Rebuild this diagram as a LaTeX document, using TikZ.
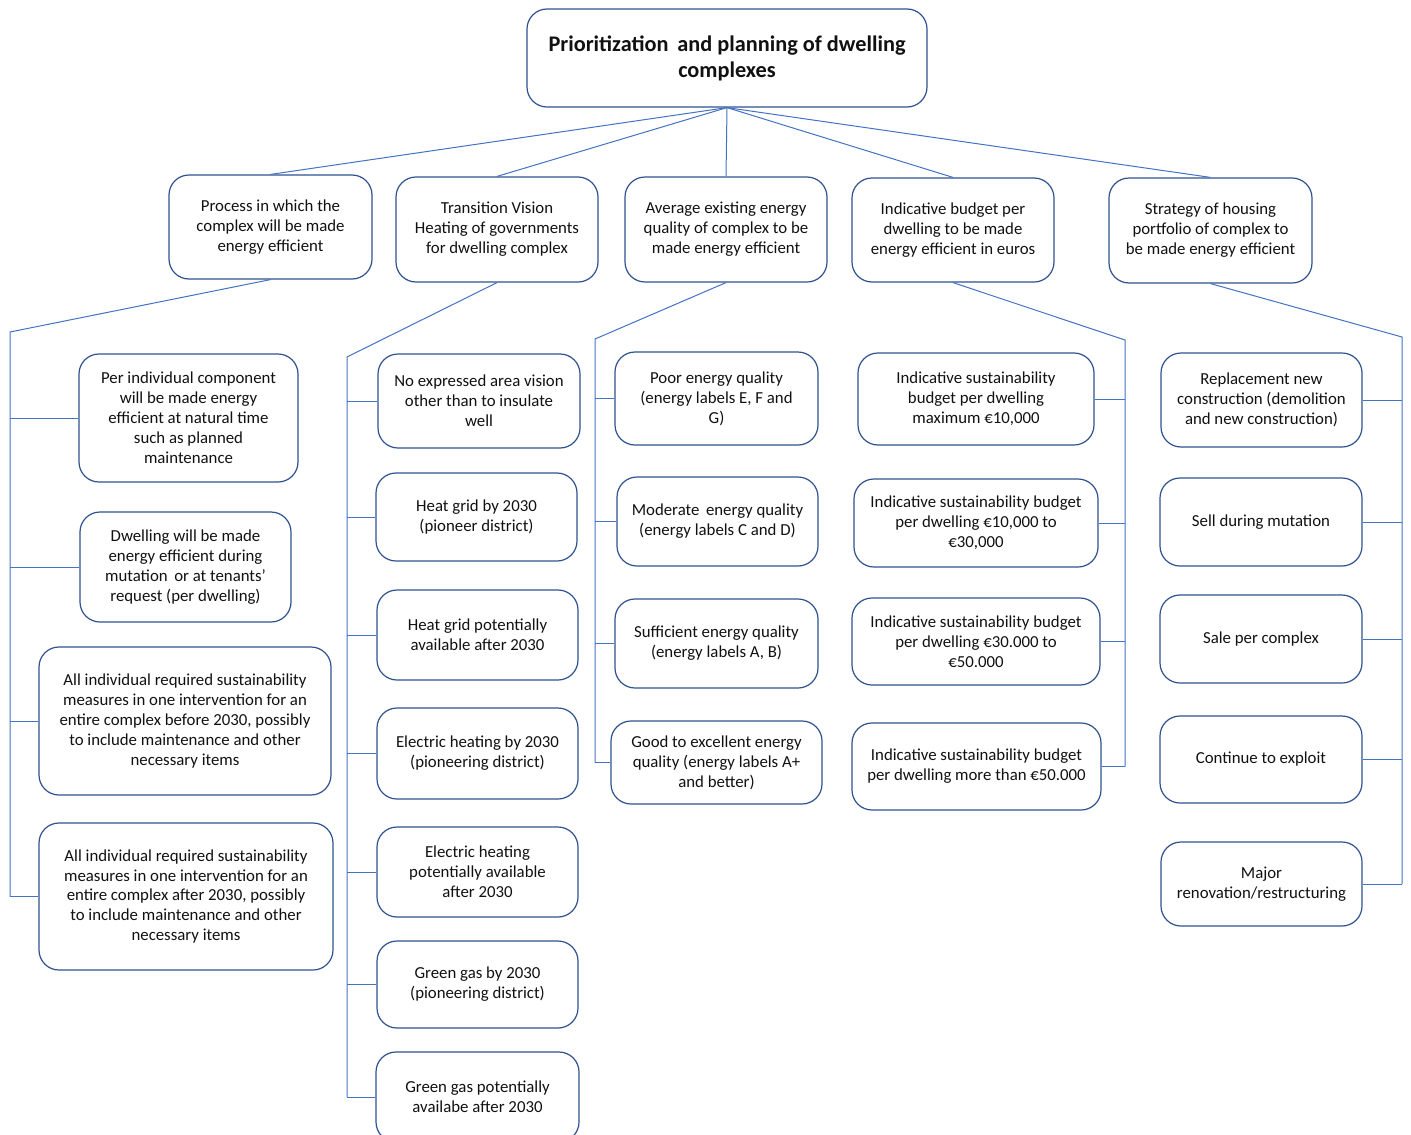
\documentclass[tikz,border=0pt]{standalone}
\usepackage{fontspec}
\setmainfont{Carlito}
\definecolor{boxblue}{HTML}{2F528F}
\definecolor{lineblue}{HTML}{4472C4}
\definecolor{txt}{HTML}{111111}
\tikzset{
  box/.style={draw=boxblue, line width=1.2pt, rounded corners=20pt, align=center, inner sep=0pt,
    text=txt, font=\fontsize{16.8}{19.9}\selectfont, fill=white},
  rootbox/.style={box, font=\bfseries\fontsize{22.3}{26}\selectfont},
  conn/.style={draw=lineblue, line width=1pt}
}
\begin{document}
\begin{tikzpicture}[x=1pt,y=-1pt]
\useasboundingbox[fill=white] (0,0) rectangle (1411,1135);
% root
\node[rootbox, minimum width=400pt, minimum height=98pt] (root) at (727,58) {Prioritization\, and planning of dwelling\\complexes};
% level 1
\node[box, minimum width=203pt, minimum height=104pt] (p1) at (270.5,227) {Process in which the\\complex will be made\\energy efficient};
\node[box, minimum width=202pt, minimum height=105pt] (p2) at (497,229.5) {Transition Vision\\Heating of governments\\for dwelling complex};
\node[box, minimum width=202pt, minimum height=105pt] (p3) at (726,229.5) {Average existing energy\\quality of complex to be\\made energy efficient};
\node[box, minimum width=202pt, minimum height=104pt] (p4) at (953,230) {Indicative budget per\\dwelling to be made\\energy efficient in euros};
\node[box, minimum width=203pt, minimum height=105pt] (p5) at (1210.5,230.5) {Strategy of housing\\portfolio of complex to\\be made energy efficient};
% column 1
\node[box, minimum width=219pt, minimum height=128pt] (c1a) at (188.5,418) {Per individual component\\will be made energy\\efficient at natural time\\such as planned\\maintenance};
\node[box, minimum width=211pt, minimum height=110pt] (c1b) at (185.5,567) {Dwelling will be made\\energy efficient during\\mutation\, or at tenants'\\request (per dwelling)};
\node[box, minimum width=292pt, minimum height=148pt] (c1c) at (185,721) {All individual required sustainability\\measures in one intervention for an\\entire complex before 2030, possibly\\to include maintenance and other\\necessary items};
\node[box, minimum width=294pt, minimum height=147pt] (c1d) at (186,896.5) {All individual required sustainability\\measures in one intervention for an\\entire complex after 2030, possibly\\to include maintenance and other\\necessary items};
% column 2
\node[box, minimum width=202pt, minimum height=94pt] (c2a) at (479,401) {No expressed area vision\\other than to insulate\\well};
\node[box, minimum width=201pt, minimum height=88pt] (c2b) at (476.5,517) {Heat grid by 2030\\(pioneer district)};
\node[box, minimum width=201pt, minimum height=90pt] (c2c) at (477.5,635) {Heat grid potentially\\available after 2030};
\node[box, minimum width=201pt, minimum height=91pt] (c2d) at (477.5,753.5) {Electric heating by 2030\\(pioneering district)};
\node[box, minimum width=201pt, minimum height=90pt] (c2e) at (477.5,872) {Electric heating\\potentially available\\after 2030};
\node[box, minimum width=201pt, minimum height=87pt] (c2f) at (477.5,984.5) {Green gas by 2030\\(pioneering district)};
\node[box, minimum width=203pt, minimum height=90pt] (c2g) at (477.5,1097) {Green gas potentially\\availabe after 2030};
% column 3
\node[box, minimum width=203pt, minimum height=93pt] (c3a) at (716.5,398.5) {Poor energy quality\\(energy labels E, F and\\G)};
\node[box, minimum width=201pt, minimum height=89pt] (c3b) at (717.5,521.5) {Moderate\, energy quality\\(energy labels C and D)};
\node[box, minimum width=203pt, minimum height=89pt] (c3c) at (716.5,643.5) {Sufficient energy quality\\(energy labels A, B)};
\node[box, minimum width=211pt, minimum height=83pt] (c3d) at (716.5,762.5) {Good to excellent energy\\quality (energy labels A+\\and better)};
% column 4
\node[box, minimum width=236pt, minimum height=92pt] (c4a) at (976,399) {Indicative sustainability\\budget per dwelling\\maximum €10,000};
\node[box, minimum width=244pt, minimum height=88pt] (c4b) at (976,523) {Indicative sustainability budget\\per dwelling €10,000 to\\€30,000};
\node[box, minimum width=248pt, minimum height=87pt] (c4c) at (976,641.5) {Indicative sustainability budget\\per dwelling €30.000 to\\€50.000};
\node[box, minimum width=249pt, minimum height=87pt] (c4d) at (976.5,766.5) {Indicative sustainability budget\\per dwelling more than €50.000};
% column 5
\node[box, minimum width=201pt, minimum height=94pt] (c5a) at (1261.5,400) {Replacement new\\construction (demolition\\and new construction)};
\node[box, minimum width=202pt, minimum height=88pt] (c5b) at (1261,522) {Sell during mutation};
\node[box, minimum width=202pt, minimum height=88pt] (c5c) at (1261,639) {Sale per complex};
\node[box, minimum width=202pt, minimum height=87pt] (c5d) at (1261,759.5) {Continue to exploit};
\node[box, minimum width=201pt, minimum height=84pt] (c5e) at (1261.5,884) {Major\\renovation/restructuring};
% bus coordinates
\coordinate (b1) at (10,332);
\coordinate (b2) at (347,357);
\coordinate (b3) at (595,339);
\coordinate (b4) at (1125,340);
\coordinate (b5) at (1402,337);
% connectors root -> level 1
\foreach \p in {p1,p2,p3,p4,p5} \draw[conn] (root.south) -- (\p.north);
% level 1 -> bus
\draw[conn] (p1.south) -- (b1) -- (b1 |- c1d.west);
\draw[conn] (p2.south) -- (b2) -- (b2 |- c2g.west);
\draw[conn] (p3.south) -- (b3) -- (b3 |- c3d.west);
\draw[conn] (p4.south) -- (b4) -- (b4 |- c4d.east);
\draw[conn] (p5.south) -- (b5) -- (b5 |- c5e.east);
% stubs
\foreach \c in {c1a,c1b,c1c,c1d} \draw[conn] (\c.west) -- (\c.west -| b1);
\foreach \c in {c2a,c2b,c2c,c2d,c2e,c2f,c2g} \draw[conn] (\c.west) -- (\c.west -| b2);
\foreach \c in {c3a,c3b,c3c,c3d} \draw[conn] (\c.west) -- (\c.west -| b3);
\foreach \c in {c4a,c4b,c4c,c4d} \draw[conn] (\c.east) -- (\c.east -| b4);
\foreach \c in {c5a,c5b,c5c,c5d,c5e} \draw[conn] (\c.east) -- (\c.east -| b5);
\end{tikzpicture}
\end{document}
